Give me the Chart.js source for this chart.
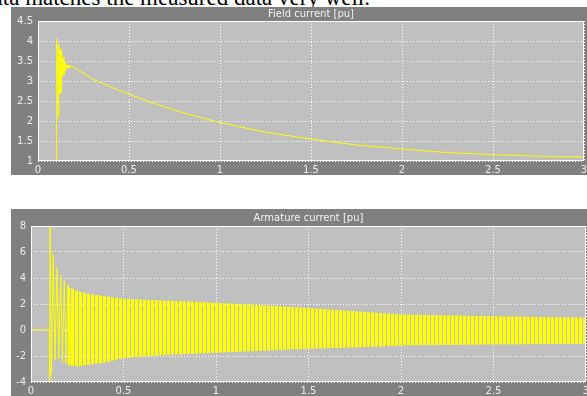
<!DOCTYPE html>
<html>
<head>
<meta charset="utf-8">
<script src="https://cdn.jsdelivr.net/npm/chart.js@4/dist/chart.umd.min.js"></script>
<style>
  html, body { margin: 0; padding: 0; background: #fff; }
  body { width: 587px; height: 396px; position: relative; overflow: hidden; }
  #caption { position: absolute; right: 217px; top: -14px; font: 23px "Liberation Serif", serif; line-height: 1; white-space: nowrap; color: #000; }
  .box { position: absolute; left: 11px; width: 576px; }
  #box1 { top: 7px; height: 168px; }
  #box2 { top: 209px; height: 187px; }
</style>
</head>
<body>
<div id="caption">the simulated data matches the measured data very well.</div>
<div class="box" id="box1"><canvas id="fieldChart"></canvas></div>
<div class="box" id="box2"><canvas id="armChart"></canvas></div>
<script>
// field current [pu]
const fieldT = [0, 0.1, 0.102, 0.104, 0.108, 0.111, 0.114, 0.118, 0.122, 0.126, 0.13, 0.134, 0.138, 0.142, 0.146,
                0.15, 0.155, 0.16, 0.165, 0.17, 0.18, 0.2, 0.3, 0.4, 0.5, 0.6, 0.7, 0.8, 0.9, 1.0,
                1.25, 1.5, 1.75, 2.0, 2.25, 2.5, 2.75, 3.0];
const fieldI = [1, 1, 3.3, 4.05, 3.0, 2.1, 3.9, 2.65, 3.8, 2.7, 3.75, 3.1, 3.6, 3.15, 3.5,
                3.25, 3.45, 3.3, 3.4, 3.32, 3.38, 3.33, 3.05, 2.85, 2.67, 2.5, 2.35, 2.2, 2.08, 1.96,
                1.72, 1.55, 1.4, 1.3, 1.21, 1.16, 1.12, 1.1];

// armature current [pu], first swings
const armSpikeT = [0, 0.1, 0.101, 0.103, 0.11, 0.12, 0.13, 0.14, 0.15, 0.16, 0.17, 0.18, 0.19, 0.2, 0.21, 0.22];
const armSpikeI = [0, 0, -4, 8, -3.4, 5.8, -2.3, 4.8, -2.2, 4.2, -2.5, 3.8, -2.6, 3.5, -2.7, 3.2];

// armature current envelope afterwards
const armT  = [0.2, 0.25, 0.3, 0.4, 0.5, 0.75, 1, 1.25, 1.5, 1.75, 2, 2.5, 3];
const armHi = [3.3, 3.0, 2.8, 2.6, 2.4, 2.25, 2.1, 1.9, 1.7, 1.45, 1.2, 1.05, 0.95];
const armLo = [-2.7, -2.8, -2.7, -2.5, -2.15, -1.9, -1.75, -1.6, -1.45, -1.35, -1.2, -1.12, -1.05];

const xTicks = [0, 0.5, 1, 1.5, 2, 2.5, 3];

const pts = (xs, ys) => xs.map((x, i) => ({ x: x, y: ys[i] }));

// striped yellow fill for the dense oscillation
const pc = document.createElement('canvas');
pc.width = 4; pc.height = 1;
const pctx = pc.getContext('2d');
pctx.fillStyle = '#ffff00';
pctx.fillRect(0, 0, 3, 1);
const stripes = pctx.createPattern(pc, 'repeat');

const matlabLook = {
  id: 'matlabLook',
  beforeDraw(chart, args, opts) {
    const { ctx, chartArea: a } = chart;
    ctx.save();
    ctx.fillStyle = '#808080';
    ctx.fillRect(0, 0, chart.width, chart.height);
    ctx.fillStyle = '#c0c0c0';
    ctx.fillRect(a.left, a.top, a.right - a.left, a.bottom - a.top);
    ctx.fillStyle = '#f2f2f2';
    ctx.font = '10px "DejaVu Sans"';
    ctx.textAlign = 'center';
    ctx.textBaseline = 'middle';
    ctx.fillText(opts.text, (a.left + a.right) / 2, a.top / 2 + 0.5);
    ctx.restore();
  },
  afterDraw(chart) {
    const { ctx, chartArea: a } = chart;
    ctx.save();
    ctx.strokeStyle = '#ffffff';
    ctx.lineWidth = 1;
    ctx.strokeRect(a.left + 0.5, a.top + 0.5, a.right - a.left - 1, a.bottom - a.top - 1);
    ctx.restore();
  }
};

const plain = v => String(Math.round(v * 100) / 100);

function makeOptions(title, yMin, yMax, yStep, leftW, topPad, rightPad, xPad) {
  return {
    responsive: true,
    maintainAspectRatio: false,
    animation: false,
    layout: { padding: { top: topPad, right: rightPad, left: 0, bottom: 0 } },
    plugins: {
      legend: { display: false },
      tooltip: { enabled: false },
      matlabLook: { text: title }
    },
    scales: {
      x: {
        type: 'linear', min: 0, max: 3,
        afterBuildTicks: s => { s.ticks = xTicks.map(v => ({ value: v })); },
        afterFit: s => { s.height = 14; s.paddingLeft = 0; s.paddingRight = 0; },
        grid: { color: '#ffffff', drawTicks: false },
        border: { display: false, dash: [1, 2] },
        ticks: { autoSkip: false, maxRotation: 0, padding: xPad, color: '#ececec', callback: plain,
                 font: { family: 'DejaVu Sans', size: 10 } }
      },
      y: {
        min: yMin, max: yMax,
        ticks: { stepSize: yStep, padding: 5, color: '#ececec', callback: plain,
                 font: { family: 'DejaVu Sans', size: 10 } },
        afterFit: s => { s.width = leftW; s.paddingTop = 0; s.paddingBottom = 0; },
        grid: { color: '#ffffff', drawTicks: false },
        border: { display: false, dash: [1, 2] }
      }
    }
  };
}

new Chart(document.getElementById('fieldChart'), {
  type: 'line',
  data: {
    datasets: [{
      data: pts(fieldT, fieldI),
      borderColor: '#ffff00', borderWidth: 1, pointRadius: 0, tension: 0
    }]
  },
  options: makeOptions('Field current [pu]', 1, 4.5, 0.5, 27, 14, 3, 3),
  plugins: [matlabLook]
});

new Chart(document.getElementById('armChart'), {
  type: 'line',
  data: {
    datasets: [
      { data: pts(armT, armLo), borderWidth: 0, pointRadius: 0, tension: 0, fill: false },
      { data: pts(armT, armHi), borderWidth: 0, pointRadius: 0, tension: 0, fill: '-1', backgroundColor: stripes },
      { data: pts(armSpikeT, armSpikeI), borderColor: '#ffff00', borderWidth: 1, pointRadius: 0, tension: 0 }
    ]
  },
  options: makeOptions('Armature current [pu]', -4, 8, 2, 20, 17, 1, 3),
  plugins: [matlabLook]
});
</script>
</body>
</html>
